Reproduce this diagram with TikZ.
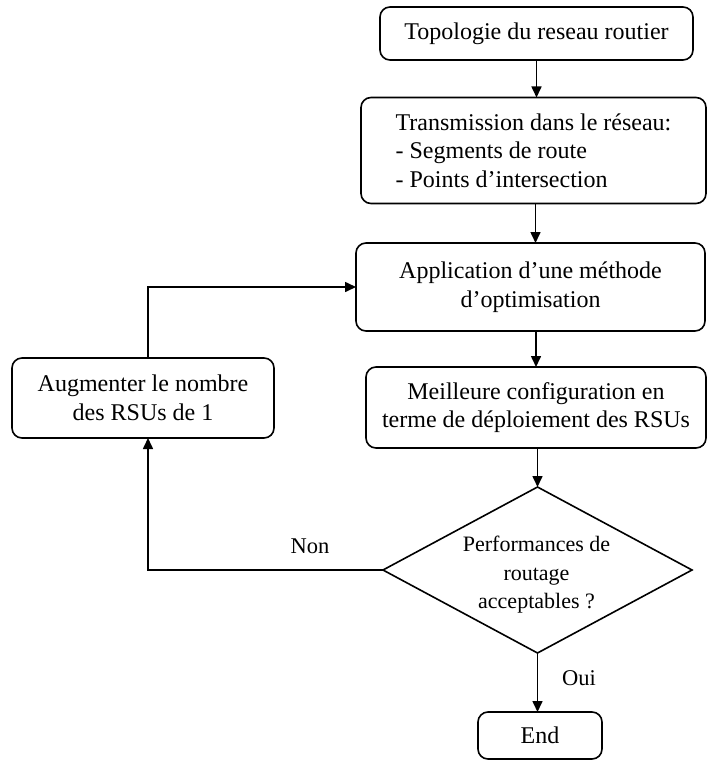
\documentclass[tikz,border=0pt]{standalone}
\usepackage{fontspec}
\setmainfont{Liberation Serif}
\usetikzlibrary{arrows.meta,shapes.geometric}

\begin{document}
\begin{tikzpicture}[x=1pt,y=-1pt,
  every node/.style={inner sep=0pt,outer sep=0pt},
  stepbox/.style={draw,line width=1.6pt,rounded corners=10pt,
    font=\fontsize{24}{28.5}\selectfont,align=center},
  decision/.style={draw,line width=1.6pt,diamond},
  tag/.style={font=\fontsize{22.5}{26}\selectfont},
  arr/.style={line width=1.6pt,-{Triangle[length=11pt,width=10pt]}}]

\useasboundingbox (0,0) rectangle (707,762);

% main column of steps
\node[stepbox,minimum width=313pt,minimum height=53pt] (topo) at (536.5,33.5)
  {Topologie du reseau routier};
\node[stepbox,minimum width=345pt,minimum height=106pt,align=left] (trans) at (533.5,150.5)
  {Transmission dans le réseau:\\
   - Segments de route\\
   - Points d’intersection};
\node[stepbox,minimum width=349pt,minimum height=88pt] (optim) at (530.5,287)
  {Application d’une méthode\\d’optimisation};
\node[stepbox,minimum width=340pt,minimum height=81pt] (best) at (536,407.5)
  {Meilleure configuration en\\terme de déploiement des RSUs};
\node[decision,minimum width=309pt,minimum height=166pt] (perf) at (537.5,570)
  {};
\node[font=\fontsize{22}{28.5}\selectfont,align=center] (perftext) at (536.5,575)
  {Performances de\\routage\\acceptables ?};
\node[stepbox,minimum width=124pt,minimum height=47pt] (fin) at (540,735.5)
  {End};

% loop-back step
\node[stepbox,minimum width=262pt,minimum height=80pt] (aug) at (143,398)
  {Augmenter le nombre\\des RSUs de 1};

% connectors of the main column
\draw[arr] (topo.south) -- (topo.south |- trans.north);
\draw[arr] ([xshift=2pt]trans.south) -- ([xshift=2pt]trans.south |- optim.north);
\draw[arr] ([xshift=5.5pt]optim.south) -- ([xshift=5.5pt]optim.south |- best.north);
\draw[arr] (perf.north |- best.south) -- (perf.north);
\draw[arr] (perf.south) -- (perf.south |- fin.north);

% loop back through the increment step
\draw[arr] (perf.west) -| ([xshift=5pt]aug.south);
\draw[arr] ([xshift=5pt]aug.north) |- (optim.west);

% branch labels
\node[tag] (non) at (310,546) {Non};
\node[tag] (oui) at (579,678) {Oui};
\end{tikzpicture}
\end{document}
